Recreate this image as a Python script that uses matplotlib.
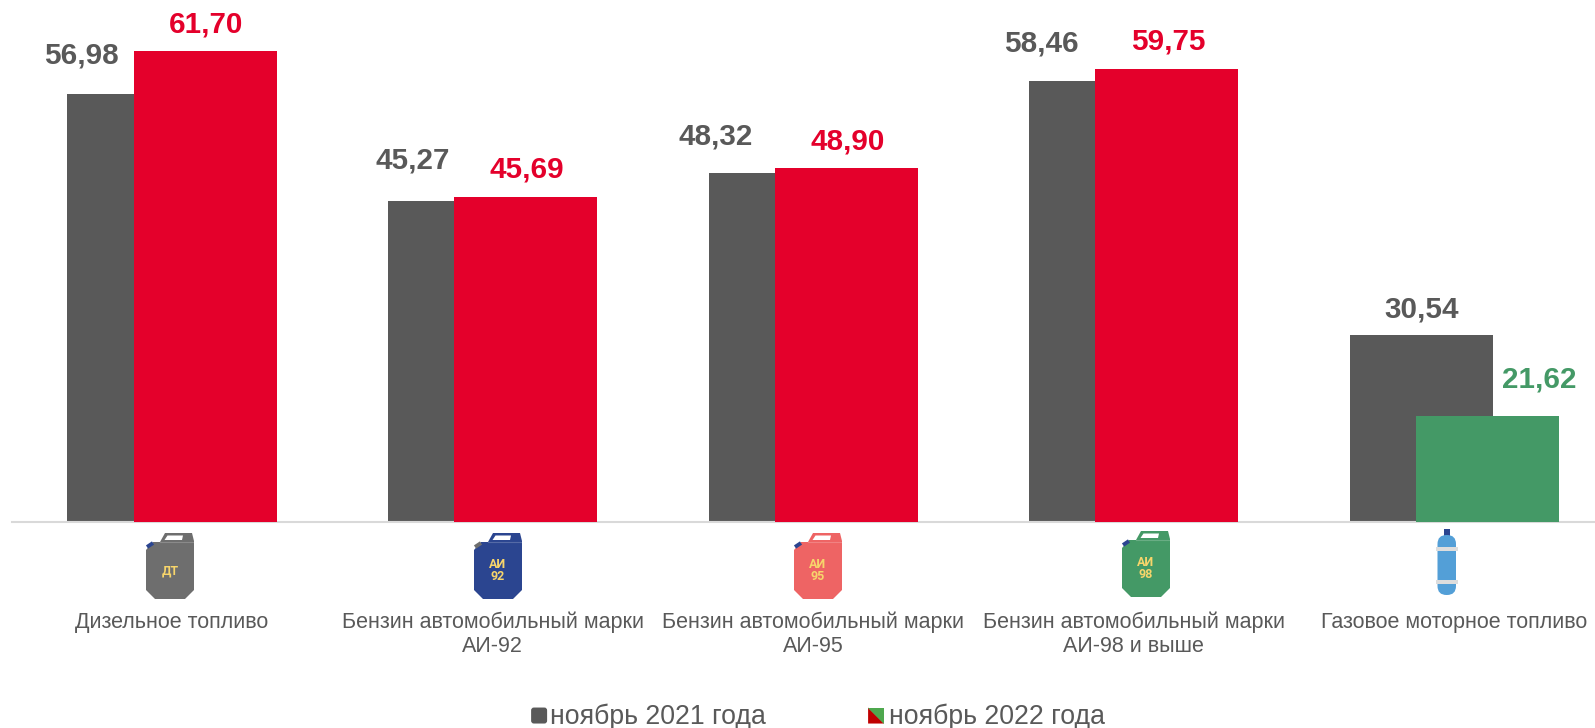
import matplotlib
matplotlib.use("Agg")
import matplotlib.pyplot as plt
from matplotlib.patches import Polygon, FancyBboxPatch, Rectangle
from matplotlib.legend_handler import HandlerBase
from matplotlib.lines import Line2D

plt.rcParams['font.family'] = ['Liberation Sans', 'DejaVu Sans']

categories = ["Дизельное топливо", "Бензин автомобильный марки\nАИ-92",
              "Бензин автомобильный марки\nАИ-95", "Бензин автомобильный марки\nАИ-98 и выше",
              "Газовое моторное топливо"]
nov_2021 = [56.98, 45.27, 48.32, 58.46, 30.54]
nov_2022 = [61.70, 45.69, 48.90, 59.75, 21.62]
labels_2021 = ["56,98", "45,27", "48,32", "58,46", "30,54"]
labels_2022 = ["61,70", "45,69", "48,90", "59,75", "21,62"]
legend_names = ["ноябрь 2021 года", "ноябрь 2022 года"]

GRAY = "#595959"
RED = "#E4002B"
GREEN = "#449966"
colors_2022 = [RED, RED, RED, RED, GREEN]

W, H = 1595, 728
BASE = 522
fig = plt.figure(figsize=(W / 100, H / 100), dpi=100, facecolor="white")
ax = fig.add_axes([12 / W, (H - BASE) / H, (W - 12) / W, BASE / H])
SP = 320.6
C0 = 172
ax.set_xlim((12 - C0) / SP, (W - C0) / SP)
ax.set_ylim(10, 10 + BASE / 9.11)
for s in ("top", "left", "right"):
    ax.spines[s].set_visible(False)
ax.spines["bottom"].set_color("#D9D9D9")
ax.spines["bottom"].set_linewidth(1.5)
ax.set_yticks([])
xs = list(range(len(categories)))
ax.set_xticks(xs)
ax.set_xticklabels(categories, fontsize=15.5, color=GRAY, linespacing=1.2)
ax.tick_params(axis="x", length=0, pad=64.5)

w = 0.446
d = 0.103
ax.bar([x - d for x in xs], nov_2021, width=w, color=GRAY, zorder=2)
ax.bar([x + d for x in xs], nov_2022, width=w, color=colors_2022, zorder=3)

off_2021 = [(-57, 38), (-46, 40), (-63, 36), (-58, 36), (0, 25)]
off_2022 = [(1, 26), (1, 27), (1, 26), (1, 27), (51, 36)]
k = 1.017 * 0.72
for x, v, t, o in zip(xs, nov_2021, labels_2021, off_2021):
    ax.annotate(t, (x - d, v), xytext=(o[0] * k, o[1] * k), textcoords="offset points",
                ha="center", va="center", fontsize=21.3, fontweight="bold", color=GRAY, annotation_clip=False)
for x, v, t, o, c in zip(xs, nov_2022, labels_2022, off_2022, colors_2022):
    ax.annotate(t, (x + d, v), xytext=(o[0] * k, o[1] * k), textcoords="offset points",
                ha="center", va="center", fontsize=21.3, fontweight="bold", color=c, annotation_clip=False)

# icons, drawn in pixel space
ov = fig.add_axes([0, 0, 1, 1], facecolor="none")
ov.set_xlim(0, W)
ov.set_ylim(H, 0)
ov.axis("off")
YEL = "#F7D56B"


def can(x0, y0, col, spout, lines):
    body = [(0, 57), (9, 66), (39, 66), (48, 57), (48, 8), (46, 0), (19, 0), (14, 9), (7, 9), (0, 17)]
    ov.add_patch(Polygon([(x0 + a, y0 + b) for a, b in body], closed=True, fc=col, ec="none"))
    win = [(18.5, 7), (21.5, 2.5), (37, 2.5), (36, 7)]
    ov.add_patch(Polygon([(x0 + a, y0 + b) for a, b in win], closed=True, fc="white", ec="none"))
    ov.plot([x0 + 14, x0 + 48], [y0 + 9, y0 + 9], color="white", alpha=0.2, lw=0.8)
    ov.plot([x0 + 1, x0 + 7], [y0 + 14, y0 + 10], color=spout, lw=2.8, solid_capstyle="butt")
    ov.text(x0 + 24, y0 + 38, "\n".join(lines), ha="center", va="center", color=YEL,
            fontsize=9, fontweight="bold", linespacing=0.9, family="Roboto")


can(146, 533, "#6E6E6E", "#2B4590", ["ДТ"])
can(474, 533, "#2B4590", "#6E6E6E", ["АИ", "92"])
can(794, 533, "#EE6464", "#2B4590", ["АИ", "95"])
can(1122, 531, "#449966", "#2B4590", ["АИ", "98"])
ov.add_patch(Rectangle((1443.5, 529), 6, 9, fc="#2B4590", ec="none"))
ov.add_patch(FancyBboxPatch((1437.5 + 9, 535 + 9), 0.5, 42, boxstyle="round,pad=9,rounding_size=9",
                            fc="#539FD7", ec="none"))
ov.add_patch(Rectangle((1436, 547), 21.5, 4, fc="#DDDDDD", ec="none"))
ov.add_patch(Rectangle((1436, 580), 21.5, 4, fc="#DDDDDD", ec="none"))


class H1(HandlerBase):
    def create_artists(self, legend, orig, xd, yd, width, height, fontsize, trans):
        s = 16 * 0.72
        p = FancyBboxPatch((xd * -1 + width - s + 1.5, -yd + 1.8), s - 3, s - 3,
                           boxstyle="round,pad=1.5,rounding_size=2", fc=GRAY, ec="none", transform=trans)
        return [p]


class H2(HandlerBase):
    def create_artists(self, legend, orig, xd, yd, width, height, fontsize, trans):
        s = 16 * 0.72
        x0, y0 = -xd + width - s - 1.5, -yd + 0.3
        a = Polygon([(x0, y0), (x0 + s, y0), (x0, y0 + s)], closed=True, fc="#C00000", ec="none", transform=trans)
        b = Polygon([(x0 + s, y0), (x0 + s, y0 + s), (x0, y0 + s)], closed=True, fc="#4EA84E", ec="none", transform=trans)
        return [a, b]


h1 = Line2D([], [])
h2 = Line2D([], [])
fig.legend([h1, h2], legend_names, handler_map={h1: H1(), h2: H2()}, ncol=2, frameon=False,
           loc="center", bbox_to_anchor=(0.5105, 0.0155), fontsize=19.2, labelcolor=GRAY,
           handlelength=0.9, handletextpad=0.12, columnspacing=3.6, borderpad=0, borderaxespad=0)

fig.savefig("out.png", dpi=100, facecolor="white")
